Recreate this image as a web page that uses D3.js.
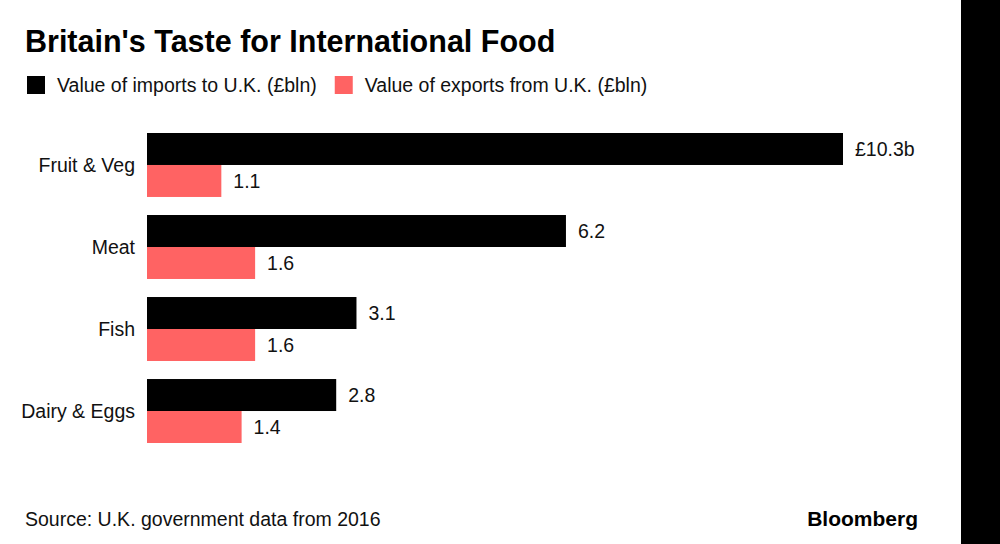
<!DOCTYPE html>
<html>
<head>
<meta charset="utf-8">
<script src="https://cdn.jsdelivr.net/npm/d3@7"></script>
<style>
  body { margin: 0; background: #fff; }
  svg { display: block; font-family: 'Liberation Sans', Arial, sans-serif; }
</style>
</head>
<body>
<div id="chart"></div>
<script>
'use strict'

const categories = ['Fruit & Veg', 'Meat', 'Fish', 'Dairy & Eggs']
const imports = [10.3, 6.2, 3.1, 2.8]
const exports = [1.1, 1.6, 1.6, 1.4]
const seriesNames = ['Value of imports to U.K. (£bln)', 'Value of exports from U.K. (£bln)']
const seriesKeys = ['imports', 'exports']
const colors = ['#000000', '#ff6363']

const width = 1000
const height = 544
const labelSize = 19.5

const svg = d3.select('#chart')
  .append('svg')
  .attr('width', width)
  .attr('height', height)

svg.append('rect')
  .attr('x', 961)
  .attr('y', 0)
  .attr('width', width - 961)
  .attr('height', height)
  .attr('fill', '#000')

svg.append('text')
  .attr('x', 25)
  .attr('y', 52)
  .attr('font-size', 30.5)
  .attr('font-weight', 'bold')
  .attr('fill', '#000')
  .text("Britain's Taste for International Food")

// legend
const legend = svg.append('g').attr('transform', 'translate(27, 76)')
let lx = 0
seriesNames.forEach((name, i) => {
  const g = legend.append('g').attr('transform', `translate(${lx}, 0)`)
  g.append('rect').attr('width', 18).attr('height', 18).attr('fill', colors[i])
  const t = g.append('text')
    .attr('x', 30)
    .attr('y', 16)
    .attr('font-size', labelSize)
    .attr('fill', '#111')
    .text(name)
  lx += 30 + t.node().getComputedTextLength() + 18
})

const data = categories.map((c, i) => ({ category: c, imports: imports[i], exports: exports[i] }))

const x = d3.scaleLinear().domain([0, 10.3]).range([147, 843])
const y = d3.scaleBand().domain(categories).range([133, 443]).paddingInner(0.22)
const ySub = d3.scaleBand().domain(seriesKeys).range([0, y.bandwidth()])

const groups = svg.selectAll('.group')
  .data(data)
  .enter()
  .append('g')
  .attr('class', 'group')
  .attr('transform', (d) => `translate(0, ${y(d.category)})`)

groups.selectAll('rect')
  .data((d) => seriesKeys.map((k) => ({ key: k, value: d[k] })))
  .enter()
  .append('rect')
  .attr('x', x(0))
  .attr('y', (d) => ySub(d.key))
  .attr('width', (d) => x(d.value) - x(0))
  .attr('height', ySub.bandwidth())
  .attr('fill', (d, i) => colors[i])

groups.selectAll('.value')
  .data((d, gi) => seriesKeys.map((k) => ({ key: k, value: d[k], first: gi === 0 && k === 'imports' })))
  .enter()
  .append('text')
  .attr('class', 'value')
  .attr('x', (d) => x(d.value) + 12)
  .attr('y', (d) => ySub(d.key) + ySub.bandwidth() / 2)
  .attr('dy', '0.35em')
  .attr('font-size', labelSize)
  .attr('fill', '#111')
  .text((d) => d.first ? `£${d.value}b` : d.value)

groups.append('text')
  .attr('x', 135)
  .attr('y', y.bandwidth() / 2)
  .attr('dy', '0.35em')
  .attr('text-anchor', 'end')
  .attr('font-size', labelSize)
  .attr('fill', '#111')
  .text((d) => d.category)

svg.append('text')
  .attr('x', 25)
  .attr('y', 526)
  .attr('font-size', labelSize)
  .attr('fill', '#111')
  .text('Source: U.K. government data from 2016')

svg.append('text')
  .attr('x', 918)
  .attr('y', 526)
  .attr('text-anchor', 'end')
  .attr('font-size', 21)
  .attr('font-weight', 'bold')
  .attr('fill', '#000')
  .text('Bloomberg')
</script>
</body>
</html>
